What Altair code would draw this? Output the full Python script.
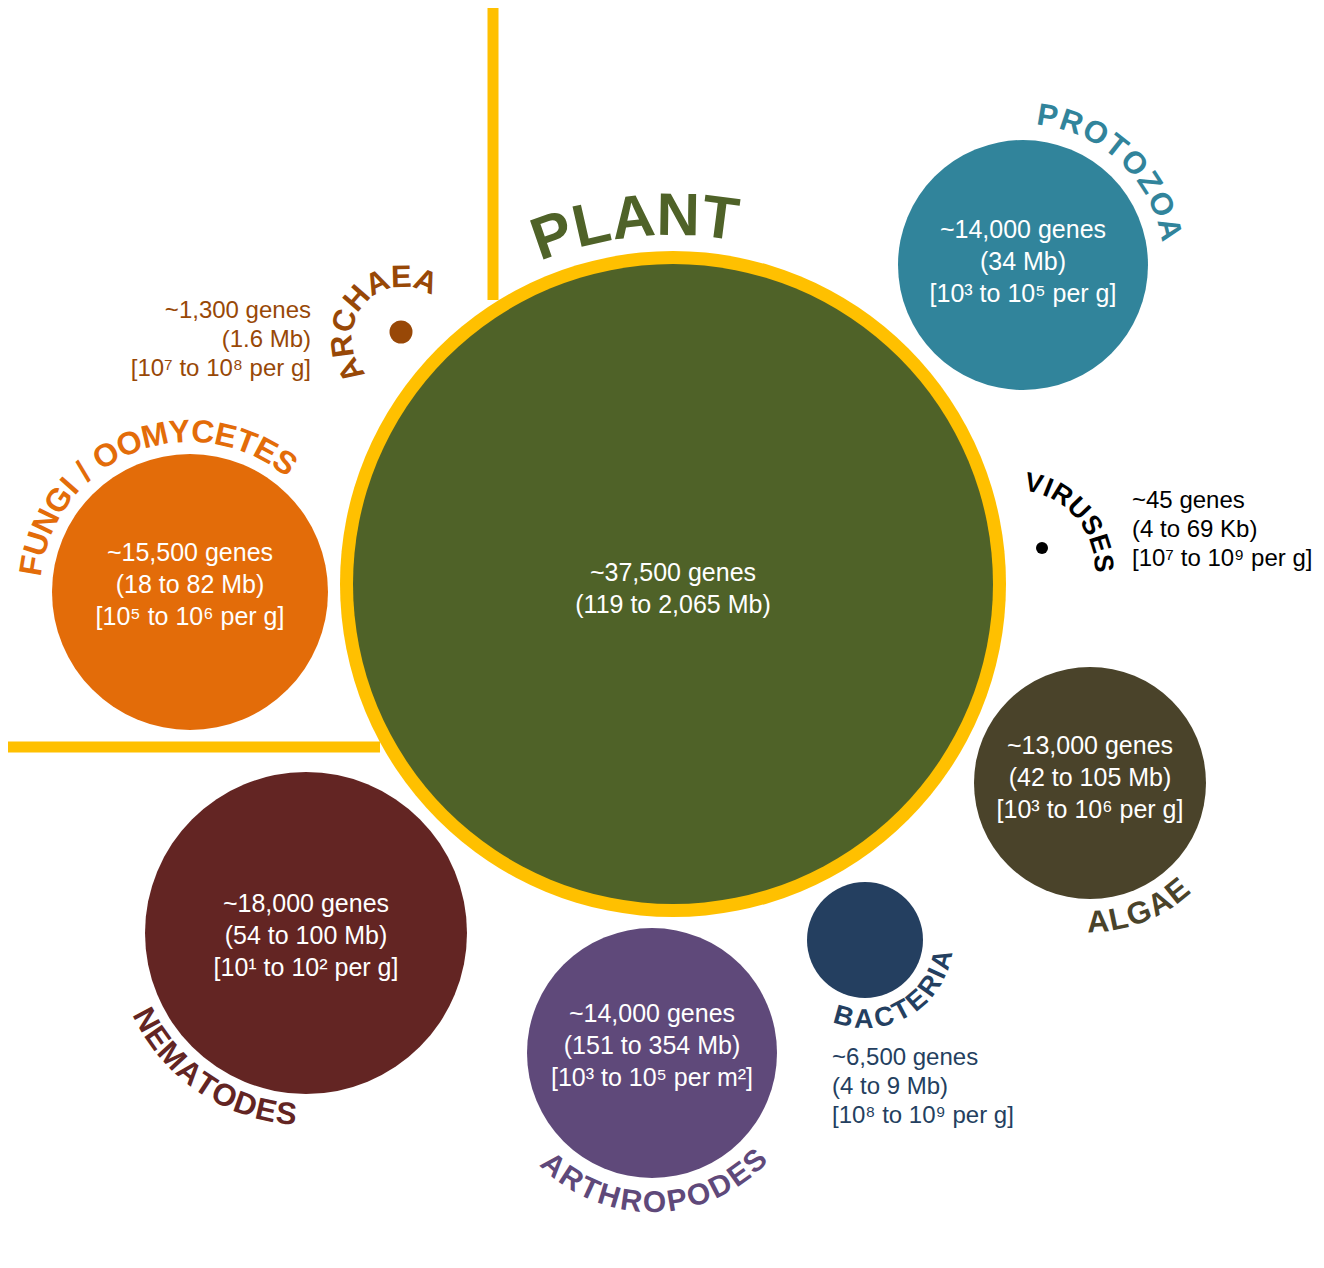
import math
import altair as alt
import pandas as pd

# ---------------- data ----------------
GROUPS = ["PLANT", "PROTOZOA", "FUNGI / OOMYCETES", "ARCHAEA", "VIRUSES",
          "ALGAE", "BACTERIA", "NEMATODES", "ARTHROPODES"]
COLORS = ["#4F6228", "#31849B", "#E36C09", "#984807", "#000000",
          "#4A432A", "#243F60", "#632523", "#5F497A"]
# bubble layout (image pixels): centre and radius of each bubble
BUBBLE_X = [673, 1023, 190, 401, 1042, 1090, 865, 306, 652]
BUBBLE_Y = [584, 265, 592, 332, 548, 783, 940, 933, 1053]
BUBBLE_R = [320, 125, 138, 11.5, 6, 116, 58, 161, 125]

GENES = ["~37,500 genes", "~14,000 genes", "~15,500 genes", "~1,300 genes",
         "~45 genes", "~13,000 genes", "~6,500 genes", "~18,000 genes", "~14,000 genes"]
GENOME = ["(119 to 2,065 Mb)", "(34 Mb)", "(18 to 82 Mb)", "(1.6 Mb)",
          "(4 to 69 Kb)", "(42 to 105 Mb)", "(4 to 9 Mb)", "(54 to 100 Mb)", "(151 to 354 Mb)"]
DENSITY = ["", "[10³ to 10⁵ per g]", "[10⁵ to 10⁶ per g]", "[10⁷ to 10⁸ per g]",
           "[10⁷ to 10⁹ per g]", "[10³ to 10⁶ per g]", "[10⁸ to 10⁹ per g]",
           "[10¹ to 10² per g]", "[10³ to 10⁵ per m²]"]
# where the info text block sits: inside / right-aligned / left-aligned
INFO_ALIGN = ["center", "center", "center", "right", "left", "center", "left", "center", "center"]
INFO_X = [673, 1023, 190, 311, 1132, 1090, 832, 306, 652]
INFO_Y0 = [573, 230, 553, 311, 501, 746, 1058, 904, 1014]

# curved group labels: arc centre, radius, mid bearing (deg, clockwise from top), font size, side, tracking
ARC_CX = [673, 1023, 190, 403, 1015, 1090, 865, 306, 652]
ARC_CY = [584, 265, 592, 338, 570, 783, 940, 933, 1053]
ARC_R = [367, 150, 160, 60, 88, 140, 80, 183, 150]
ARC_MID = [-6, 43, -22, -50, 49, 159, 150, 214, 179]
ARC_FS = [60, 31, 32, 31, 27, 31, 27, 31, 30]
ARC_SIDE = ["top", "top", "top", "top", "top", "bottom", "bottom", "bottom", "bottom"]
ARC_TRACK = [2, 3, 1, 3, 2, 0, 1, 0, 1]

# yellow plant ring and separator lines
RING_R = 333
RING_COLOR = "#FFC000"
SEP_X = [493, 0]
SEP_X2 = [493, 380]
SEP_Y = [8, 747]
SEP_Y2 = [300, 747]

FONT = "Liberation Sans"

# approximate Arial Bold advance widths (em)
W = {"A": .722, "B": .722, "C": .722, "D": .722, "E": .667, "F": .611, "G": .778,
     "H": .722, "I": .278, "L": .611, "M": .833, "N": .722, "O": .778, "P": .667,
     "R": .722, "S": .667, "T": .611, "U": .722, "V": .667, "Y": .667, "Z": .611,
     " ": .278, "/": .278}

# ---------------- tables ----------------
# Vega's circle symbol of size s has diameter sqrt(s)
bubbles = pd.DataFrame({
    "x": [673] + BUBBLE_X, "y": [584] + BUBBLE_Y,
    "area": [(2 * RING_R) ** 2] + [(2 * r) ** 2 for r in BUBBLE_R],
    "color": [RING_COLOR] + COLORS,
})

seps = pd.DataFrame({"x": SEP_X, "x2": SEP_X2, "y": SEP_Y, "y2": SEP_Y2})

info_rows = []
for i, g in enumerate(GROUPS):
    inside = INFO_ALIGN[i] == "center"
    col = "#FFFFFF" if inside else COLORS[i]
    step = 32 if inside else 29
    lines = [GENES[i], GENOME[i]] + ([DENSITY[i]] if DENSITY[i] else [])
    for k, ln in enumerate(lines):
        info_rows.append({"x": INFO_X[i], "y": INFO_Y0[i] + k * step, "label": ln,
                          "color": col, "align": INFO_ALIGN[i]})
info = pd.DataFrame(info_rows)

arc_rows = []
for i, g in enumerate(GROUPS):
    fs, R, tr = ARC_FS[i], ARC_R[i], ARC_TRACK[i]
    widths = [W[c] * fs + tr for c in g]
    total = sum(widths)
    cum = 0.0
    for c, w in zip(g, widths):
        off = math.degrees((cum + w / 2 - total / 2) / R)
        cum += w
        if ARC_SIDE[i] == "top":
            b = ARC_MID[i] + off
            rot = b
        else:
            b = ARC_MID[i] - off
            rot = b - 180
        br = math.radians(b)
        arc_rows.append({"x": ARC_CX[i] + R * math.sin(br), "y": ARC_CY[i] - R * math.cos(br),
                         "label": c, "angle": rot % 360, "fs": fs, "color": COLORS[i]})
arcs = pd.DataFrame(arc_rows)

# ---------------- chart ----------------
X = alt.X("x:Q", scale=alt.Scale(domain=[8, 1316], nice=False, zero=False), axis=None)
Y = alt.Y("y:Q", scale=alt.Scale(domain=[8, 1260], reverse=True, nice=False, zero=False), axis=None)

sep_layer = alt.Chart(seps).mark_rule(color=RING_COLOR, strokeWidth=11, strokeCap="butt").encode(
    x=X, y=Y, x2="x2:Q", y2="y2:Q")

bubble_layer = alt.Chart(bubbles).mark_circle(opacity=1, strokeWidth=0).encode(
    x=X, y=Y,
    size=alt.Size("area:Q", scale=None),
    color=alt.Color("color:N", scale=None),
)

def info_layer(align, fs):
    return alt.Chart(info[info["align"] == align]).mark_text(
        align=align, baseline="middle", font=FONT, fontSize=fs).encode(
        x=X, y=Y, text="label:N", color=alt.Color("color:N", scale=None))

arc_layer = alt.Chart(arcs).mark_text(align="center", baseline="middle", font=FONT,
                                      fontWeight="bold").encode(
    x=X, y=Y, text="label:N",
    angle=alt.Angle("angle:Q", scale=None),
    size=alt.Size("fs:Q", scale=None),
    color=alt.Color("color:N", scale=None),
)

chart = alt.layer(
    sep_layer, bubble_layer,
    info_layer("center", 25), info_layer("right", 24), info_layer("left", 24),
    arc_layer,
).properties(
    width=1308, height=1252, padding=0,
    autosize=alt.AutoSizeParams(type="none"),
    background="white",
).configure_view(strokeWidth=0)

chart.save("out.html", embed_options={"renderer": "svg", "actions": False})
